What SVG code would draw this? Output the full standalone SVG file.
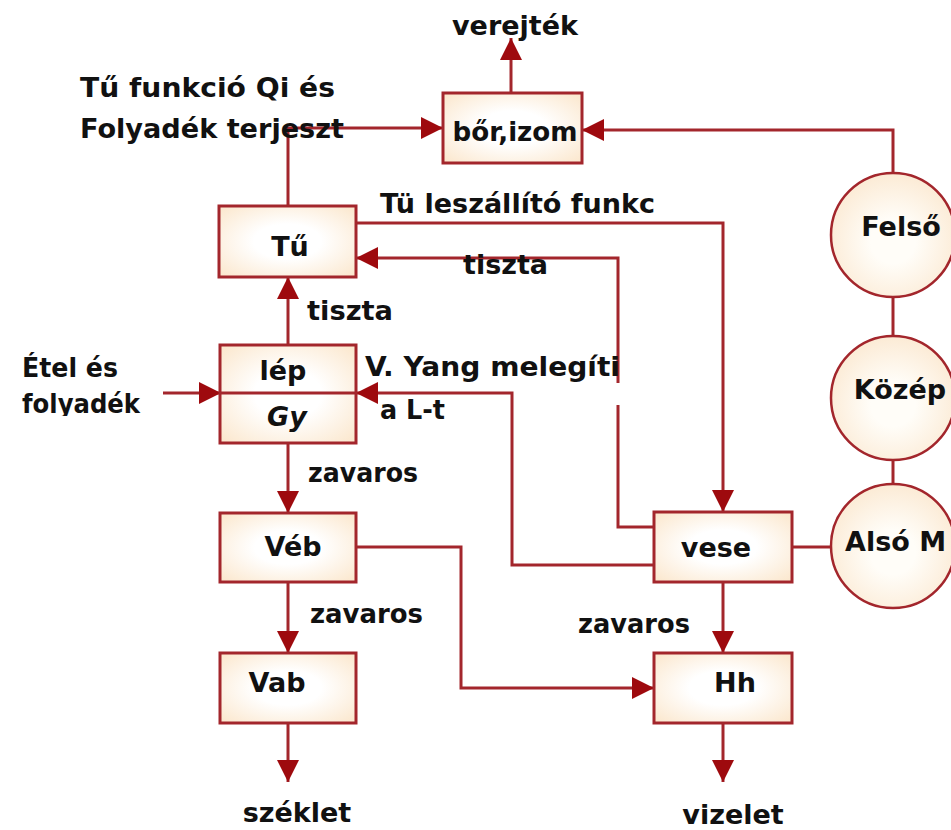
<svg xmlns="http://www.w3.org/2000/svg" width="951" height="830" viewBox="0 0 951 830">
<style>
.box{stroke:#A3262C;stroke-width:3;fill:url(#bg)}
.circ{stroke:#A3262C;stroke-width:2.5;fill:url(#cg)}
.ln{fill:none;stroke:#A3262C;stroke-width:3}
.arr{marker-end:url(#ah)}
text{font-family:"DejaVu Sans","Liberation Sans",sans-serif;font-weight:bold;font-size:27px;fill:#111}
.c{text-anchor:middle}
</style>
<defs>
<radialGradient id="bg" cx="0.5" cy="0.5" r="0.7">
<stop offset="0.35" stop-color="#FFFFFF"/>
<stop offset="1" stop-color="#FBE6CB"/>
</radialGradient>
<radialGradient id="cg" cx="0.5" cy="0.55" r="0.6">
<stop offset="0.3" stop-color="#FFFDF8"/>
<stop offset="1" stop-color="#FBE8D0"/>
</radialGradient>
<marker id="ah" markerUnits="userSpaceOnUse" markerWidth="22" markerHeight="22" viewBox="0 0 20 20" refX="20" refY="10" orient="auto">
<path d="M0 0 L20 10 L0 20 Z" fill="#9E0A0E"/>
</marker>
<clipPath id="clipF"><rect x="0" y="380" width="200" height="36"/></clipPath>
</defs>

<g id="connectors">
<path class="ln arr" d="M288 206 V128 H443"/>
<path class="ln arr" d="M893 173 V130 H582"/>
<path class="ln arr" d="M511 93 V38"/>
<path class="ln arr" d="M356 223 H723 V512"/>
<path class="ln arr" d="M654 527 H618 V405 M618 383 V258 H356"/>
<path class="ln arr" d="M654 565 H512 V393 H356"/>
<path class="ln arr" d="M163 393 H221"/>
<path class="ln arr" d="M288 345 V277"/>
<path class="ln arr" d="M288 443 V513"/>
<path class="ln arr" d="M288 582 V653"/>
<path class="ln arr" d="M288 723 V782"/>
<path class="ln arr" d="M356 547 H461 V688 H654"/>
<path class="ln arr" d="M723 582 V653"/>
<path class="ln arr" d="M723 723 V782"/>
<path class="ln" d="M792 547 H831"/>
<path class="ln" d="M893 297 V336"/>
<path class="ln" d="M893 460 V484"/>
</g>

<g id="bor">
<rect class="box" x="443" y="93" width="139" height="70"/>
<text class="c" x="515" y="141" textLength="125" lengthAdjust="spacingAndGlyphs">bőr,izom</text>
</g>
<g id="tu">
<rect class="box" x="219" y="206" width="137" height="71"/>
<text class="c" x="290" y="256">Tű</text>
</g>
<g id="lep">
<rect class="box" x="220" y="345" width="136" height="98"/>
<line x1="220" y1="393" x2="356" y2="393" stroke="#A3262C" stroke-width="3"/>
<text class="c" x="283" y="380">lép</text>
<text class="c" x="287" y="426" font-style="italic">Gy</text>
</g>
<g id="veb">
<rect class="box" x="220" y="513" width="136" height="69"/>
<text class="c" x="293" y="556">Véb</text>
</g>
<g id="vab">
<rect class="box" x="220" y="653" width="136" height="70"/>
<text class="c" x="277" y="692">Vab</text>
</g>
<g id="vese">
<rect class="box" x="654" y="512" width="138" height="70"/>
<text class="c" x="716" y="557">vese</text>
</g>
<g id="hh">
<rect class="box" x="654" y="653" width="138" height="70"/>
<text class="c" x="735" y="692">Hh</text>
</g>
<g id="felso">
<circle class="circ" cx="893" cy="235" r="62"/>
<text class="c" x="901" y="236">Felső</text>
</g>
<g id="kozep">
<circle class="circ" cx="893" cy="398" r="62"/>
<text class="c" x="900" y="399">Közép</text>
</g>
<g id="also">
<circle class="circ" cx="893" cy="546" r="62"/>
<text x="845" y="551">Alsó M</text>
</g>

<g id="labels">
<text class="c" x="515" y="35">verejték</text>
<text x="80" y="97" textLength="255" lengthAdjust="spacingAndGlyphs">Tű funkció Qi és</text>
<text x="80" y="138" textLength="264" lengthAdjust="spacingAndGlyphs">Folyadék terjeszt</text>
<text x="380" y="213" textLength="275" lengthAdjust="spacingAndGlyphs">Tü leszállító funkc</text>
<text x="463" y="274" textLength="85" lengthAdjust="spacingAndGlyphs">tiszta</text>
<text x="307" y="320" textLength="86" lengthAdjust="spacingAndGlyphs">tiszta</text>
<text x="22" y="377" textLength="96" lengthAdjust="spacingAndGlyphs">Étel és</text>
<text x="22" y="413" textLength="118" lengthAdjust="spacingAndGlyphs" clip-path="url(#clipF)">folyadék</text>
<text x="365" y="376" textLength="255" lengthAdjust="spacingAndGlyphs">V. Yang melegíti</text>
<text x="380" y="419" textLength="65" lengthAdjust="spacingAndGlyphs">a L-t</text>
<text x="308" y="482" textLength="110" lengthAdjust="spacingAndGlyphs">zavaros</text>
<text x="310" y="623" textLength="113" lengthAdjust="spacingAndGlyphs">zavaros</text>
<text x="578" y="633" textLength="112" lengthAdjust="spacingAndGlyphs">zavaros</text>
<text class="c" x="297" y="822">széklet</text>
<text class="c" x="733" y="824">vizelet</text>
</g>
</svg>
